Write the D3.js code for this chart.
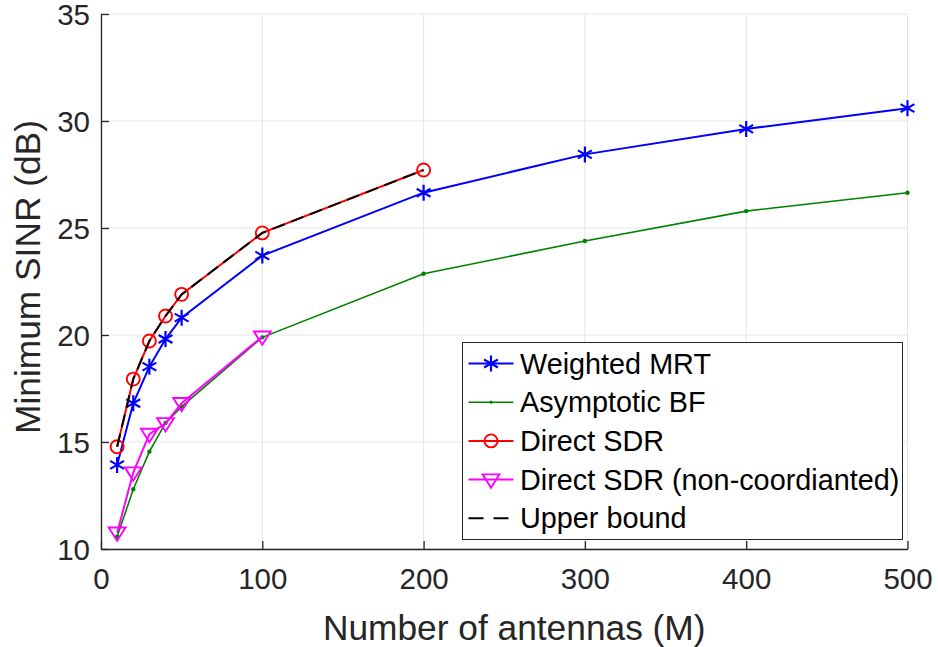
<!DOCTYPE html>
<html>
<head>
<meta charset="utf-8">
<script src="https://cdn.jsdelivr.net/npm/d3@7/dist/d3.min.js"></script>
<style>
  html, body { margin: 0; padding: 0; background: #fff; }
  svg { display: block; font-family: "Liberation Sans", Arial, Helvetica, sans-serif; }
</style>
</head>
<body>
<svg id="chart" width="938" height="647"></svg>
<script>
// Antenna counts for each curve
const antennasFull = [10, 20, 30, 40, 50, 100, 200, 300, 400, 500];
const antennasSDR = [10, 20, 30, 40, 50, 100, 200];
const antennasNonCoord = [10, 20, 30, 40, 50, 100];

// Minimum SINR (dB) per scheme
const weightedMRT = [13.93, 16.81, 18.52, 19.81, 20.81, 23.71, 26.65, 28.44, 29.63, 30.60];
const asymptoticBF = [10.57, 12.79, 14.55, 15.89, 16.65, 19.89, 22.86, 24.39, 25.79, 26.65];
const directSDR = [14.78, 17.94, 19.72, 20.89, 21.90, 24.77, 27.71];
const directSDRNonCoord = [10.76, 13.57, 15.37, 15.87, 16.81, 19.92];
const upperBound = [14.78, 17.94, 19.72, 20.89, 21.90, 24.77, 27.71];

const xTicks = [0, 100, 200, 300, 400, 500];
const yTicks = [10, 15, 20, 25, 30, 35];
const legendLabels = ["Weighted MRT", "Asymptotic BF", "Direct SDR", "Direct SDR (non-coordianted)", "Upper bound"];

const svg = d3.select("#chart");
const margin = { left: 101, top: 14, right: 938 - 907.5, bottom: 647 - 549 };
const W = 938 - margin.left - margin.right;
const H = 647 - margin.top - margin.bottom;
const axisColor = "#262626";

const x = d3.scaleLinear().domain([0, 500]).range([0, W]);
const y = d3.scaleLinear().domain([10, 35]).range([H, 0]);

const g = svg.append("g").attr("transform", `translate(${margin.left},${margin.top})`);

// grid
g.append("g").selectAll("line").data(xTicks).join("line")
  .attr("x1", d => x(d)).attr("x2", d => x(d)).attr("y1", 0).attr("y2", H)
  .attr("stroke", "#e5e5e5").attr("stroke-width", 1);
g.append("g").selectAll("line").data(yTicks).join("line")
  .attr("x1", 0).attr("x2", W).attr("y1", d => y(d)).attr("y2", d => y(d))
  .attr("stroke", "#e5e5e5").attr("stroke-width", 1);

// axes
const xAxis = g.append("g").attr("transform", `translate(0,${H})`)
  .call(d3.axisBottom(x).tickValues(xTicks).tickSizeInner(-8).tickSizeOuter(0).tickPadding(20));
const yAxis = g.append("g")
  .call(d3.axisLeft(y).tickValues(yTicks).tickSizeInner(-8).tickSizeOuter(0).tickPadding(11));
[xAxis, yAxis].forEach(a => {
  a.select(".domain").attr("stroke", axisColor).attr("stroke-width", 1.3);
  a.selectAll(".tick line").attr("stroke", axisColor).attr("stroke-width", 1.3);
  a.selectAll(".tick text").attr("fill", axisColor).style("font-size", "29.5px")
    .style("font-family", "'Liberation Sans', Arial, sans-serif");
});
xAxis.selectAll(".tick text").attr("dy", "0.68em");
yAxis.selectAll(".tick text").attr("dy", "0.36em");

// axis titles
svg.append("text")
  .attr("x", margin.left + W / 2 + 10).attr("y", 640)
  .attr("text-anchor", "middle").attr("fill", axisColor)
  .style("font-size", "35.3px").text("Number of antennas (M)");
svg.append("text")
  .attr("transform", `translate(40,277) rotate(-90)`)
  .attr("text-anchor", "middle").attr("fill", axisColor)
  .style("font-size", "35.3px").text("Minimum SINR (dB)");

// marker shapes
function starPath(r) {
  const a = Math.PI / 6;
  const c = Math.cos(a) * r, s = Math.sin(a) * r;
  return `M0,${-r}L0,${r}M${-c},${-s}L${c},${s}M${-c},${s}L${c},${-s}`;
}
function triDownPath(r) {
  const w = r * 1.08, h = r * 0.9;
  return `M${-w},${-h * 0.75}L${w},${-h * 0.75}L0,${h * 1.15}Z`;
}

const line = d3.line().x(d => x(d[0])).y(d => y(d[1]));
const zip = (a, b) => a.map((v, i) => [v, b[i]]);

const series = [
  { data: zip(antennasFull, weightedMRT), color: "#0000ff", width: 2, marker: "star" },
  { data: zip(antennasFull, asymptoticBF), color: "#008000", width: 1.6, marker: "dot" },
  { data: zip(antennasSDR, directSDR), color: "#ff0000", width: 2, marker: "circle" },
  { data: zip(antennasNonCoord, directSDRNonCoord), color: "#ff00ff", width: 2, marker: "tri" },
  { data: zip(antennasSDR, upperBound), color: "#000000", width: 2, marker: "none", dash: "13,7" }
];

function drawMarker(sel, type, color) {
  if (type === "star") {
    sel.append("path").attr("d", starPath(8)).attr("fill", "none")
      .attr("stroke", color).attr("stroke-width", 2.2);
  } else if (type === "dot") {
    sel.append("circle").attr("r", 2.2).attr("fill", color);
  } else if (type === "circle") {
    sel.append("circle").attr("r", 6.5).attr("fill", "none")
      .attr("stroke", color).attr("stroke-width", 1.9);
  } else if (type === "tri") {
    sel.append("path").attr("d", triDownPath(7.8)).attr("fill", "none")
      .attr("stroke", color).attr("stroke-width", 1.9);
  }
}

series.forEach(s => {
  g.append("path").datum(s.data).attr("d", line)
    .attr("fill", "none").attr("stroke", s.color).attr("stroke-width", s.width)
    .attr("stroke-dasharray", s.dash || null);
  if (s.marker !== "none") {
    g.append("g").selectAll("g").data(s.data).join("g")
      .attr("transform", d => `translate(${x(d[0])},${y(d[1])})`)
      .each(function () { drawMarker(d3.select(this), s.marker, s.color); });
  }
});

// legend
const lg = svg.append("g").attr("transform", "translate(462.5,342.5)");
lg.append("rect").attr("width", 440).attr("height", 197)
  .attr("fill", "#fff").attr("stroke", axisColor).attr("stroke-width", 1);
legendLabels.forEach((label, i) => {
  const s = series[i];
  const row = lg.append("g").attr("transform", `translate(0,${21 + i * 38.7})`);
  row.append("line").attr("x1", 6).attr("x2", 51).attr("y1", 0).attr("y2", 0)
    .attr("stroke", s.color).attr("stroke-width", s.width)
    .attr("stroke-dasharray", s.dash ? "15,10" : null);
  const m = row.append("g").attr("transform", "translate(28.5,0)");
  if (s.marker === "dot") {
    m.append("circle").attr("r", 1.6).attr("fill", s.color);
  } else {
    drawMarker(m, s.marker, s.color);
  }
  row.append("text").attr("x", 57.5).attr("dy", "0.35em")
    .attr("fill", "#000").style("font-size", "28.8px").text(label);
});
</script>
</body>
</html>
